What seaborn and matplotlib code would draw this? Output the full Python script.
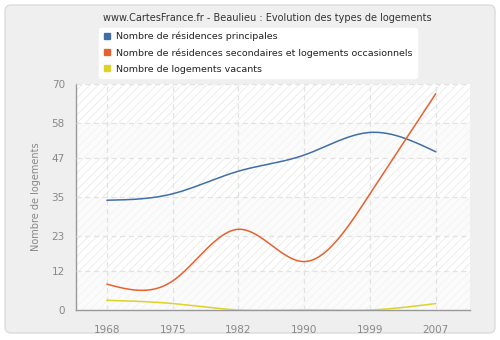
import numpy as np
import pandas as pd
import matplotlib
matplotlib.use("Agg")
import matplotlib.pyplot as plt
from matplotlib.patches import FancyBboxPatch
from matplotlib.lines import Line2D
from matplotlib.transforms import IdentityTransform
import seaborn as sns

years = ["1968", "1975", "1982", "1990", "1999", "2007"]
principales = [34, 36, 43, 48, 55, 49]
secondaires = [8, 9, 25, 15, 36, 67]
vacants = [3, 2, 0, 0, 0, 2]
series_names = [
    "Nombre de résidences principales",
    "Nombre de résidences secondaires et logements occasionnels",
    "Nombre de logements vacants",
]
colors = ["#3f6fa6", "#e5622e", "#ddd22a"]
yticks = [0, 12, 23, 35, 47, 58, 70]


def natural_spline(vals, n=300):
    y = np.asarray(vals, float)
    N = len(y)
    A = np.zeros((N, N))
    b = np.zeros(N)
    A[0, 0] = 1
    A[-1, -1] = 1
    for i in range(1, N - 1):
        A[i, i - 1] = 1
        A[i, i] = 4
        A[i, i + 1] = 1
        b[i] = 6 * (y[i + 1] - 2 * y[i] + y[i - 1])
    M = np.linalg.solve(A, b)
    xs = np.linspace(0, N - 1, n)
    out = np.empty_like(xs)
    for k, x in enumerate(xs):
        i = min(int(np.floor(x)), N - 2)
        t = x - i
        out[k] = (y[i] * (1 - t) + y[i + 1] * t
                  + ((1 - t) ** 3 - (1 - t)) * M[i] / 6
                  + (t ** 3 - t) * M[i + 1] / 6)
    return xs, out


sns.set_style("white")
plt.rcParams["font.family"] = ["DejaVu Sans"]
plt.rcParams["hatch.linewidth"] = 0.6

W, H = 500, 340
fig = plt.figure(figsize=(W / 100, H / 100), dpi=100)
fig.patch.set_facecolor("white")
frame = FancyBboxPatch((5, 7), 490, 328, boxstyle="round,pad=0,rounding_size=6",
                       transform=IdentityTransform(), facecolor="#efefef",
                       edgecolor="#dcdcdc", linewidth=1, zorder=-10)
fig.patches.append(frame)

ax = fig.add_axes([76 / W, 1 - 310 / H, (470 - 76) / W, (310 - 84) / H])
ax.set_zorder(1)
ax.set_facecolor("white")

# alternating bands
for j in range(len(yticks) - 1):
    lo, hi = yticks[j], yticks[j + 1]
    if j % 2 == 0:
        ax.axhspan(lo, hi, facecolor="#fbfbfb", edgecolor="#f3f3f3", hatch="////",
                   linewidth=0, zorder=0)
    else:
        ax.axhspan(lo, hi, facecolor="white", edgecolor="#e9e9e9", hatch="////",
                   linewidth=0, zorder=0)

frames = []
for name, vals in zip(series_names, [principales, secondaires, vacants]):
    xs, ys = natural_spline(vals)
    frames.append(pd.DataFrame({"x": xs, "y": ys, "serie": name}))
df = pd.concat(frames, ignore_index=True)

sns.lineplot(data=df, x="x", y="y", hue="serie", palette=colors, sort=False,
             estimator=None, linewidth=1.1, legend=False, ax=ax, zorder=3)

ax.set_xlim(-0.47, 5.52)
ax.set_ylim(0, 70)
ax.set_xticks(range(len(years)))
ax.set_xticklabels(years)
ax.set_yticks(yticks)
ax.set_xlabel("")
ax.set_ylabel("Nombre de logements", color="#888888", fontsize=7, labelpad=8)

ax.grid(True, color="#e2e2e2", linestyle=(0, (4, 3)), linewidth=0.9, zorder=1)
ax.set_axisbelow(False)
for s in ["top", "right"]:
    ax.spines[s].set_visible(False)
for s in ["left", "bottom"]:
    ax.spines[s].set_color("#999999")
    ax.spines[s].set_linewidth(1)
ax.tick_params(axis="both", direction="out", length=5, width=0.8, color="#999999",
               labelcolor="#888888", labelsize=7.5, pad=3)
ax.tick_params(axis="x", pad=6)

fig.text(267.5 / W, 1 - 18 / H, "www.CartesFrance.fr - Beaulieu : Evolution des types de logements",
         ha="center", va="center", fontsize=7, color="#333333")

handles = [Line2D([], [], marker="s", linestyle="none", markersize=4, color=c) for c in colors]
leg = fig.legend(handles, series_names, loc="upper left", bbox_to_anchor=(99 / W, 1 - 28 / H),
                 frameon=True, fancybox=True, fontsize=6.8, handlelength=0.8,
                 handletextpad=0.6, labelspacing=0.72, borderpad=0.42, borderaxespad=0)
leg.get_frame().set_facecolor("white")
leg.get_frame().set_edgecolor("white")
leg.get_frame().set_alpha(1)
leg.set_zorder(5)
for t in leg.get_texts():
    t.set_color("#222222")

fig.savefig("out.png", dpi=100, facecolor=fig.get_facecolor())
